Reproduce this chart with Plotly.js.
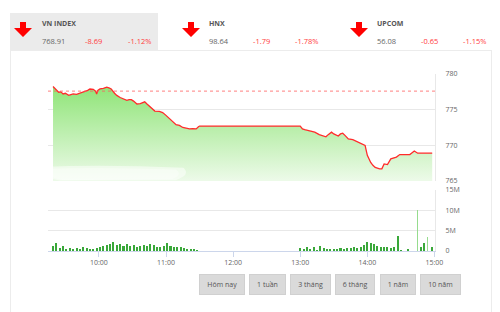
<!DOCTYPE html>
<html>
<head>
<meta charset="utf-8">
<script src="https://cdn.plot.ly/plotly-3.0.1.min.js"></script>
<style>
  html, body { margin:0; padding:0; background:#fff; }
  body { width:500px; height:312px; position:relative; overflow:hidden; font-family:"Open Sans", "DejaVu Sans", sans-serif; }
  #chart { position:absolute; left:0; top:0; width:500px; height:312px; }
  .frame { position:absolute; left:10px; top:50px; width:482px; height:270px; border:1px solid #ececec; box-sizing:border-box; pointer-events:none; }
  .tab { position:absolute; left:10px; top:13px; width:148px; height:38px; background:#ebebeb; }
  .hdr { position:absolute; font-size:7px; line-height:8px; white-space:nowrap; }
  .name { font-weight:bold; color:#555; }
  .val { color:#666; font-size:7.5px; }
  .neg { color:#ff3b3b; font-size:7.5px; }
  .arrow { position:absolute; width:18px; height:15px; }
  .btn { position:absolute; top:274px; height:21px; background:#dadada; border:1px solid #d0d0d0; box-sizing:border-box; font-size:7px; color:#555; text-align:center; line-height:19px; }
</style>
</head>
<body>
<div class="tab"></div>
<div class="frame"></div>
<div id="chart"></div>
<div id="hdrs"></div>
<div id="btns"></div>
<script>
// ---- header data ----
var indexNames = ["VN INDEX", "HNX", "UPCOM"];
var indexValues = ["768.91", "98.64", "56.08"];
var indexChanges = ["-8.69", "-1.79", "-0.65"];
var indexPercents = ["-1.12%", "-1.78%", "-1.15%"];
var buttonLabels = ["Hôm nay", "1 tuần", "3 tháng", "6 tháng", "1 năm", "10 năm"];

// ---- price data (intraday) ----
var priceTimes = ["09:19","09:21","09:24","09:26","09:28","09:30","09:33","09:35","09:37","09:40",
  "09:43","09:45","09:48","09:50","09:52","09:54","09:55","09:57","09:58","09:59",
  "10:01","10:04","10:07","10:09","10:11","10:14","10:16","10:19","10:22","10:25",
  "10:27","10:29","10:31","10:34","10:37","10:38","10:41","10:43","10:46","10:48",
  "10:50","10:54","10:57","11:00","11:03","11:05","11:09","11:12","11:15","11:18",
  "11:21","11:24","11:27","11:29","11:30","13:00","13:02","13:04","13:07","13:10",
  "13:13","13:17","13:20","13:23","13:25","13:28","13:30","13:31","13:34","13:36",
  "13:38","13:40","13:43","13:47","13:50","13:53","13:56","13:58","14:00","14:03",
  "14:05","14:07","14:11","14:13","14:15","14:18","14:21","14:26","14:29","14:33",
  "14:38","14:42","14:45","14:58"];
var priceValues = [778.25,777.9,777.45,777.5,777.2,777.3,777.0,777.1,777.2,777.15,
  777.3,777.4,777.6,777.7,777.9,777.8,777.85,777.6,777.2,777.7,
  777.9,778.0,778.15,778.05,777.9,777.3,777.0,776.7,776.5,776.3,
  776.4,776.4,776.2,775.8,775.85,775.9,776.1,775.8,775.4,775.1,
  774.8,774.75,774.6,774.2,773.8,773.5,772.9,772.8,772.5,772.4,
  772.3,772.35,772.3,772.6,772.7,772.7,772.3,772.2,772.1,771.9,
  771.85,771.5,771.3,771.2,771.5,771.85,771.6,771.5,771.3,771.6,
  771.7,771.4,770.9,770.8,770.6,770.4,770.2,770.0,768.6,767.6,
  767.2,766.9,766.7,766.7,767.4,767.3,768.1,768.35,768.7,768.7,
  768.7,769.2,768.9,768.91];
var referencePrice = 777.60;

// ---- volume data (millions) ----
var volTimesAM = ["09:19","09:22","09:25","09:28","09:31","09:34","09:37","09:40","09:43","09:46",
  "09:49","09:52","09:55","09:58","10:01","10:04","10:07","10:10","10:13","10:16",
  "10:19","10:22","10:25","10:28","10:31","10:34","10:37","10:40","10:43","10:46",
  "10:49","10:52","10:55","10:58","11:01","11:04","11:07","11:10","11:13","11:16",
  "11:19","11:22","11:25","11:28"];
var volValuesAM = [1.2,2.0,0.8,1.3,0.6,0.8,0.5,0.7,0.6,0.9,
  0.7,0.5,0.6,0.7,0.9,1.2,1.4,1.6,2.3,1.5,
  1.8,1.3,1.7,1.2,1.5,1.0,1.3,1.5,1.2,1.6,
  1.4,1.1,1.0,1.2,1.9,1.3,1.1,0.9,1.0,0.7,
  0.5,0.6,0.4,0.3];
var volTimesPM = ["13:00","13:03","13:06","13:09","13:12","13:15","13:18","13:21","13:24","13:27",
  "13:30","13:33","13:36","13:39","13:42","13:45","13:48","13:51","13:54","13:57",
  "14:00","14:03","14:06","14:09","14:12","14:15","14:18","14:21","14:24","14:27",
  "14:30","14:36","14:48","14:51","14:58"];
var volValuesPM = [0.8,0.4,0.9,0.6,1.0,0.3,1.2,0.7,0.6,0.5,
  0.6,0.5,0.7,0.6,0.8,0.7,0.9,0.8,1.0,1.5,
  2.2,2.0,1.6,1.2,1.0,0.9,1.0,0.8,0.9,3.7,
  0.3,0.6,1.0,2.0,1.0];
var volTimesATC = ["14:45","14:54"];
var volValuesATC = [10.0,3.5];

var xTicks = ["10:00","11:00","12:00","13:00","14:00","15:00"];
var priceTicks = [765,770,775,780];
var volTicks = [0,5,10,15];
var volTickText = ["0","5M","10M","15M"];

// ---- HTML header & buttons ----
var D = "2019-01-01 ";
function d(t){ return D + t; }
var hdrX = [[14,42,85,128],[182,209,253,295],[350,377,421,463]];
var hh = "";
for (var i=0;i<indexNames.length;i++){
  var p = hdrX[i];
  hh += '<svg class="arrow" style="left:'+p[0]+'px;top:22px" viewBox="0 0 18 15"><polygon points="6,0 12,0 12,6 18,6 9,15 0,6 6,6" fill="#f00"/></svg>';
  hh += '<div class="hdr name" style="left:'+p[1]+'px;top:20px">'+indexNames[i]+'</div>';
  hh += '<div class="hdr val" style="left:'+p[1]+'px;top:37px">'+indexValues[i]+'</div>';
  hh += '<div class="hdr neg" style="left:'+p[2]+'px;top:37px">'+indexChanges[i]+'</div>';
  hh += '<div class="hdr neg" style="left:'+p[3]+'px;top:37px">'+indexPercents[i]+'</div>';
}
document.getElementById('hdrs').innerHTML = hh;
var btnPos = [[199,46],[249,37],[290,41],[335,40],[380,36],[420,41]];
var bh = "";
for (var j=0;j<buttonLabels.length;j++){
  bh += '<div class="btn" style="left:'+btnPos[j][0]+'px;width:'+btnPos[j][1]+'px">'+buttonLabels[j]+'</div>';
}
document.getElementById('btns').innerHTML = bh;

// ---- plot ----
var priceTrace = {
  type:'scatter', mode:'lines', x: priceTimes.map(d), y: priceValues,
  xaxis:'x', yaxis:'y',
  line:{color:'#ff2b2b', width:1.3},
  fill:'tozeroy',
  fillgradient:{type:'vertical', start:765, stop:778.3,
    colorscale:[[0,'rgba(236,250,232,1)'],[1,'rgb(142,228,118)']]},
  hoverinfo:'skip'
};
var volAM = {type:'bar', x: volTimesAM.map(d), y: volValuesAM, xaxis:'x', yaxis:'y2',
  marker:{color:'#3aa83a'}, width:110000, hoverinfo:'skip'};
var volPM = {type:'bar', x: volTimesPM.map(d), y: volValuesPM, xaxis:'x', yaxis:'y2',
  marker:{color:'#3aa83a'}, width:110000, hoverinfo:'skip'};
var volATC = {type:'bar', x: volTimesATC.map(d), y: volValuesATC, xaxis:'x', yaxis:'y2',
  marker:{color:'#96dc8e'}, width:70000, hoverinfo:'skip'};

var font = {family:'"Open Sans", "DejaVu Sans", sans-serif', size:7, color:'#666'};
var layout = {
  width:500, height:312,
  margin:{l:48, r:65, t:74, b:61},
  paper_bgcolor:'rgba(0,0,0,0)', plot_bgcolor:'rgba(0,0,0,0)',
  showlegend:false, barmode:'overlay', bargap:0,
  font: font,
  xaxis:{type:'date', anchor:'y2',
    range:[d("09:14:30"), d("15:00:30")],
    tickvals: xTicks.map(d), ticktext: xTicks,
    ticks:'outside', ticklen:5, tickcolor:'#ccd6eb', tickwidth:1,
    showline:true, linecolor:'#ccd6eb', linewidth:1,
    showgrid:false, zeroline:false, tickfont:font},
  yaxis:{domain:[0.3955,1], range:[765,780], side:'right',
    tickvals: priceTicks, ticktext: priceTicks.map(String),
    showgrid:true, gridcolor:'#e8e8e8', gridwidth:1,
    showline:true, linecolor:'#e8e8e8', mirror:false,
    zeroline:false, ticks:'', ticklabelstandoff:8, tickfont:font},
  yaxis2:{domain:[0,0.3446], range:[0,15], side:'right',
    tickvals: volTicks, ticktext: volTickText,
    showgrid:true, gridcolor:'#e8e8e8', gridwidth:1,
    showline:true, linecolor:'#e8e8e8',
    zeroline:false, ticks:'', ticklabelstandoff:8, tickfont:font},
  shapes:[
    {type:'line', xref:'paper', x0:0, x1:1, yref:'y', y0:referencePrice, y1:referencePrice,
     line:{color:'#ff6060', width:0.8, dash:'dot'}},
    {type:'path', xref:'paper', yref:'paper', layer:'above',
     path:'M -0.02 0.475 Q 0.15 0.49 0.35 0.47 Q 0.37 0.43 0.33 0.4 L 0.03 0.398 Q -0.02 0.42 -0.02 0.475 Z',
     fillcolor:'rgba(255,255,255,0.5)', line:{width:0}},
    {type:'path', xref:'paper', yref:'paper', layer:'above',
     path:'M -0.01 0.465 Q 0.15 0.475 0.33 0.46 Q 0.35 0.43 0.32 0.405 L 0.04 0.4 Q -0.01 0.42 -0.01 0.465 Z',
     fillcolor:'rgba(255,255,255,0.35)', line:{width:0}}
  ]
};
Plotly.newPlot('chart', [priceTrace, volAM, volPM, volATC], layout, {staticPlot:true, displayModeBar:false});
</script>
</body>
</html>
